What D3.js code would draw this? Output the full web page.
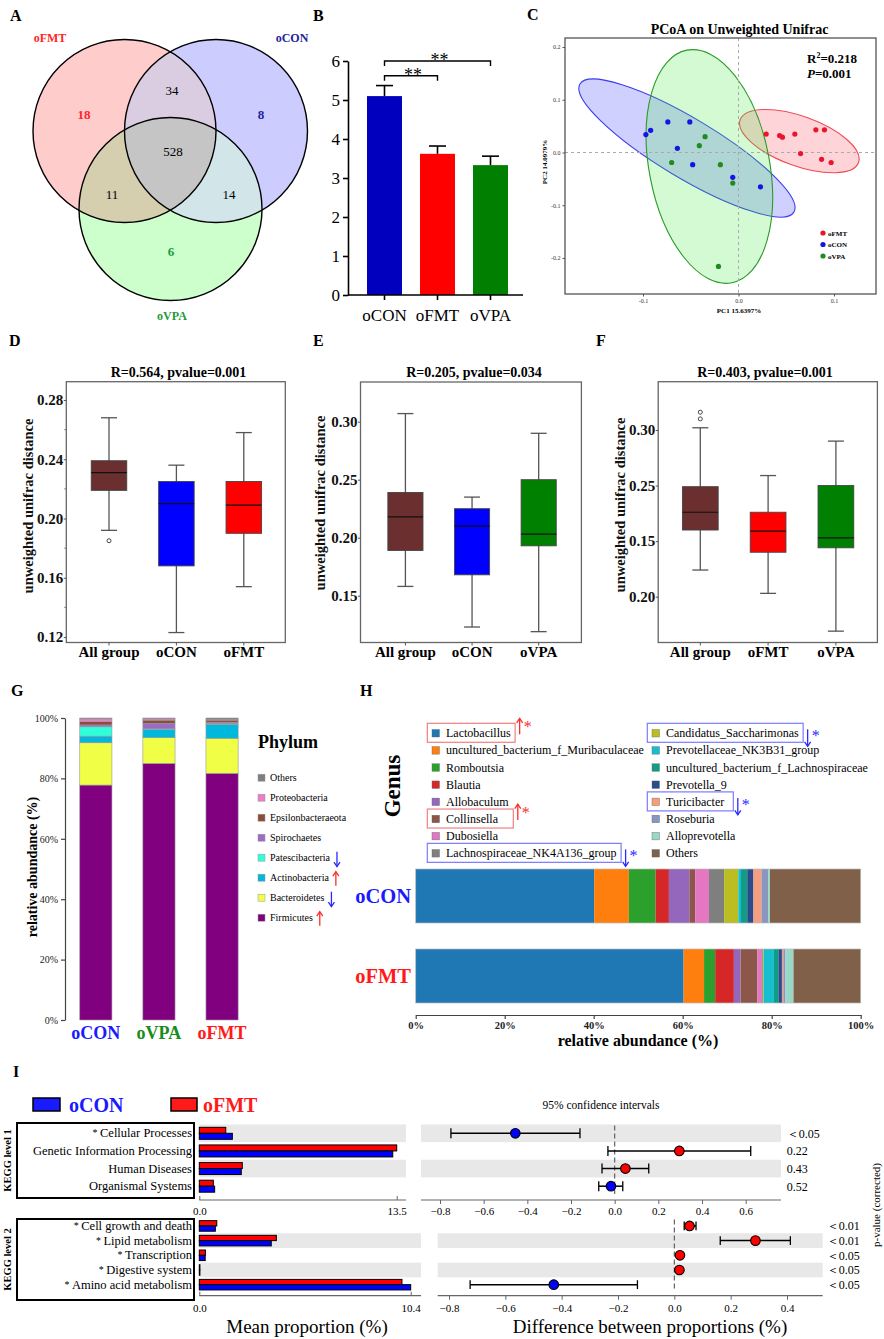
<!DOCTYPE html>
<html lang="en">
<head>
<meta charset="utf-8">
<title>Gut microbiota figure</title>
<script src="https://d3js.org/d3.v7.min.js"></script>
<style>
  body { margin: 0; background: #fff; }
  svg text { font-family: "Liberation Serif", "Times New Roman", serif; }
</style>
</head>
<body>
<svg id="fig" width="884" height="1339"></svg>
<script>

// ---------- data ----------

// A: shared / unique OTUs
const vennSets = ["oFMT", "oCON", "oVPA"];
const vennRegions = ["oFMT", "oCON", "oVPA", "oFMT&oCON", "oFMT&oVPA", "oCON&oVPA", "all"];
const vennCounts = [18, 8, 6, 34, 11, 14, 528];

// B: alpha diversity
const divGroups = ["oCON", "oFMT", "oVPA"];
const divMean = [5.10, 3.62, 3.33];
const divSem = [0.27, 0.20, 0.23];
const divSig = [["oCON", "oVPA", "**"], ["oCON", "oFMT", "**"]];

// C: PCoA (PC1, PC2)
const pcoaGroups = ["oFMT", "oCON", "oVPA"];
const pcoaFMT = [[0.029, 0.035], [0.043, 0.032], [0.046, 0.029], [0.059, 0.035], [0.081, 0.043],
                 [0.090, 0.043], [0.065, -0.002], [0.087, -0.013], [0.097, -0.019]];
const pcoaCON = [[-0.097, 0.034], [-0.092, 0.042], [-0.074, 0.058], [-0.051, 0.058],
                 [-0.064, 0.008], [-0.048, -0.023], [-0.006, -0.047], [0.023, -0.065]];
const pcoaVPA = [[-0.035, 0.030], [-0.041, 0.013], [-0.070, -0.019], [-0.019, -0.023],
                 [-0.006, -0.058], [-0.021, -0.216]];
// ellipse: major axis end points, semi-minor (PC1 units)
const pcoaEllipses = [
  [[0.0017, 0.062], [0.1257, -0.019], 0.026],
  [[-0.166, 0.130], [0.058, -0.113], 0.031],
  [[-0.054, 0.194], [-0.007, -0.247], 0.063]
];
const pcoaStats = ["0.218", "0.001"];

// D-F: ANOSIM boxplots [lower, Q1, median, Q3, upper]
const anosimTitles = ["R=0.564, pvalue=0.001", "R=0.205, pvalue=0.034", "R=0.403, pvalue=0.001"];
const anosimGroups = [["All group", "oCON", "oFMT"], ["All group", "oCON", "oVPA"], ["All group", "oFMT", "oVPA"]];
const anosimStats = [
  [[0.192, 0.219, 0.231, 0.239, 0.268], [0.123, 0.168, 0.210, 0.225, 0.236], [0.154, 0.190, 0.209, 0.225, 0.258]],
  [[0.158, 0.189, 0.218, 0.239, 0.307], [0.123, 0.168, 0.210, 0.225, 0.235], [0.119, 0.193, 0.203, 0.250, 0.290]],
  [[0.174, 0.210, 0.226, 0.249, 0.302], [0.153, 0.190, 0.209, 0.226, 0.259], [0.119, 0.194, 0.203, 0.250, 0.290]]
];
const anosimOutliers = [[[0.185], [], []], [[], [], []], [[0.310, 0.316], [], []]];
const anosimTickValues = [[0.12, 0.16, 0.20, 0.24, 0.28], [0.15, 0.20, 0.25, 0.30], [0.15, 0.20, 0.25, 0.30]];
const anosimTickLabels = [["0.12", "0.16", "0.20", "0.24", "0.28"], ["0.15", "0.20", "0.25", "0.30"], ["0.20", "0.15", "0.25", "0.30"]];

// G: phylum composition (%)
const phylumNames = ["Firmicutes", "Bacteroidetes", "Actinobacteria", "Patescibacteria",
                     "Spirochaetes", "Epsilonbacteraeota", "Proteobacteria", "Others"];
const phylumGroups = ["oCON", "oVPA", "oFMT"];
const phylumCON = [77.8, 14.0, 2.2, 3.1, 0.6, 1.1, 0.9, 0.3];
const phylumVPA = [85.0, 8.5, 2.7, 0.2, 1.8, 1.1, 0.4, 0.3];
const phylumFMT = [81.7, 11.6, 4.6, 0.2, 0.5, 0.7, 0.2, 0.5];
const phylumTrend = ["up", "down", "up", "down", "", "", "", ""];

// H: genus composition (%)
const genusNames = ["Lactobacillus", "uncultured_bacterium_f_Muribaculaceae", "Romboutsia", "Blautia",
  "Allobaculum", "Collinsella", "Dubosiella", "Lachnospiraceae_NK4A136_group",
  "Candidatus_Saccharimonas", "Prevotellaceae_NK3B31_group", "uncultured_bacterium_f_Lachnospiraceae",
  "Prevotella_9", "Turicibacter", "Roseburia", "Alloprevotella", "Others"];
const genusGroups = ["oCON", "oFMT"];
const genusCON = [40.1, 7.8, 6.0, 3.0, 4.6, 1.3, 3.1, 3.4, 3.2, 0.6, 1.4, 1.4, 1.8, 1.5, 0.4, 20.4];
const genusFMT = [60.2, 4.6, 2.5, 4.2, 1.5, 3.8, 1.0, 0.2, 0.2, 2.3, 1.0, 0.8, 0.3, 0.5, 1.8, 15.1];
const genusTrend = ["up", "", "", "", "", "up", "", "down", "down", "", "", "", "down", "", "", ""];

// I: KEGG pathways (mean proportion %, difference and 95% CI)
const kegg1Names = ["Cellular Processes", "Genetic Information Processing", "Human Diseases", "Organismal Systems"];
const kegg1Star = [true, false, false, false];
const kegg1CON = [2.26, 13.23, 2.87, 1.05];
const kegg1FMT = [1.81, 13.50, 2.94, 0.96];
const kegg1Diff = [-0.455, 0.296, 0.049, -0.017];
const kegg1Lo = [-0.750, -0.031, -0.058, -0.073];
const kegg1Hi = [-0.159, 0.623, 0.156, 0.037];
const kegg1P = ["＜0.05", "0.22", "0.43", "0.52"];
const kegg1Max = 13.5;

const kegg2Names = ["Cell growth and death", "Lipid metabolism", "Transcription", "Digestive system", "Amino acid metabolism"];
const kegg2Star = [true, true, true, true, true];
const kegg2CON = [0.79, 3.54, 0.29, 0.03, 10.40];
const kegg2FMT = [0.86, 3.79, 0.30, 0.03, 9.97];
const kegg2Diff = [0.054, 0.288, 0.020, 0.018, -0.428];
const kegg2Lo = [0.035, 0.163, 0.015, 0.014, -0.725];
const kegg2Hi = [0.077, 0.412, 0.025, 0.022, -0.131];
const kegg2P = ["＜0.01", "＜0.01", "＜0.05", "＜0.05", "＜0.05"];
const kegg2Max = 10.4;

// ---------- helpers ----------

const svg = d3.select("#fig");
const SERIF = '"Liberation Serif", "Times New Roman", serif';
const SANS = '"Liberation Sans", Arial, sans-serif';

function addText(g, str, x, y, o = {}) {
  let tr = "translate(" + x + "," + y + ")";
  if (o.rotate) tr += " rotate(" + o.rotate + ")";
  if (o.sx) tr += " scale(" + o.sx + ",1)";
  return g.append("text")
    .attr("transform", tr)
    .attr("text-anchor", o.anchor || "start")
    .attr("font-family", o.family || SERIF)
    .attr("font-size", o.size || 12)
    .attr("font-weight", o.weight || "normal")
    .attr("fill", o.fill || "#000")
    .text(str);
}

function arrow(g, x, y1, y2, color) {
  // from y1 to y2, head at y2
  const d = y2 > y1 ? 1 : -1;
  g.append("line").attr("x1", x).attr("x2", x).attr("y1", y1).attr("y2", y2)
    .attr("stroke", color).attr("stroke-width", 1.3);
  g.append("path")
    .attr("d", "M" + (x - 3) + "," + (y2 - 4.5 * d) + " L" + x + "," + y2 + " L" + (x + 3) + "," + (y2 - 4.5 * d))
    .attr("fill", "none").attr("stroke", color).attr("stroke-width", 1.3);
}

["A", "B", "C", "D", "E", "F", "G", "H", "I"].forEach((l, i) => {
  const pos = [[10, 21], [313, 21], [527, 20], [9, 346], [313, 346], [596, 346], [11, 696], [360, 696], [13, 1077]][i];
  addText(svg, l, pos[0], pos[1], { family: SANS, weight: "bold", size: 16 });
});

// ---------- A: Venn ----------
const gA = svg.append("g");
const vennR = 91.5;
const vennCircles = [
  { name: "oFMT", cx: 124.5, cy: 131, fill: "#ffcccc" },
  { name: "oCON", cx: 216, cy: 131, fill: "#ccccff" },
  { name: "oVPA", cx: 170.5, cy: 209, fill: "#ccffcc" }
];
const defs = svg.append("defs");
vennCircles.forEach(c => {
  defs.append("clipPath").attr("id", "clip-" + c.name)
    .append("circle").attr("cx", c.cx).attr("cy", c.cy).attr("r", vennR);
});
gA.selectAll("circle.base").data(vennCircles).join("circle")
  .attr("class", "base").attr("cx", d => d.cx).attr("cy", d => d.cy).attr("r", vennR)
  .attr("fill", d => d.fill);

function overlap(names, fill) {
  let g = gA;
  names.slice(0, -1).forEach(n => { g = g.append("g").attr("clip-path", "url(#clip-" + n + ")"); });
  const c = vennCircles.find(v => v.name === names[names.length - 1]);
  g.append("circle").attr("cx", c.cx).attr("cy", c.cy).attr("r", vennR).attr("fill", fill);
}
overlap(["oFMT", "oCON"], "#dacde1");
overlap(["oFMT", "oVPA"], "#d5cfaf");
overlap(["oCON", "oVPA"], "#d2e6e9");
overlap(["oFMT", "oCON", "oVPA"], "#c5c5c5");

gA.selectAll("circle.edge").data(vennCircles).join("circle")
  .attr("class", "edge").attr("cx", d => d.cx).attr("cy", d => d.cy).attr("r", vennR)
  .attr("fill", "none").attr("stroke", "#000").attr("stroke-width", 1.4);

const vennColors = { oFMT: "#ff2626", oCON: "#23239b", oVPA: "#1e9a3c" };
const vennLabelPos = [[50, 42], [292, 42], [172, 320]];
vennSets.forEach((s, i) => addText(gA, s, vennLabelPos[i][0], vennLabelPos[i][1],
  { anchor: "middle", weight: "bold", size: 12, fill: vennColors[s] }));
const vennTextPos = [[84, 119], [261, 119], [171, 256], [172, 94.5], [112, 199], [229, 199], [173, 156]];
vennRegions.forEach((r, i) => {
  const single = vennSets.includes(r);
  addText(gA, vennCounts[i], vennTextPos[i][0], vennTextPos[i][1], {
    anchor: "middle", size: 13, weight: single ? "bold" : "normal", fill: single ? vennColors[r] : "#000"
  });
});

// ---------- B: bar chart ----------
const gB = svg.append("g");
const yB = d3.scaleLinear().domain([0, 6]).range([295, 61]);
const xB = d3.scaleBand().domain(divGroups).range([358, 517]).paddingInner(0.34).paddingOuter(0.17);
const colB = { oCON: "#0000be", oFMT: "#ff0000", oVPA: "#007f00" };

gB.selectAll("rect").data(divGroups).join("rect")
  .attr("x", d => xB(d)).attr("width", xB.bandwidth())
  .attr("y", (d, i) => yB(divMean[i])).attr("height", (d, i) => yB(0) - yB(divMean[i]))
  .attr("fill", d => colB[d]);
divGroups.forEach((g, i) => {
  const cx = xB(g) + xB.bandwidth() / 2;
  gB.append("line").attr("x1", cx).attr("x2", cx)
    .attr("y1", yB(divMean[i])).attr("y2", yB(divMean[i] + divSem[i]))
    .attr("stroke", "#000").attr("stroke-width", 1.6);
  gB.append("line").attr("x1", cx - 8.5).attr("x2", cx + 8.5)
    .attr("y1", yB(divMean[i] + divSem[i])).attr("y2", yB(divMean[i] + divSem[i]))
    .attr("stroke", "#000").attr("stroke-width", 1.6);
});

const axB = gB.append("g").attr("transform", "translate(348,0)")
  .call(d3.axisLeft(yB).ticks(6).tickSize(5).tickSizeOuter(0).tickPadding(3));
axB.selectAll("path, line").attr("stroke", "#000").attr("stroke-width", 1.6);
axB.selectAll("text").attr("font-family", SERIF).attr("font-size", 17).attr("fill", "#000");

gB.append("line").attr("x1", 348).attr("x2", 523).attr("y1", yB(0)).attr("y2", yB(0))
  .attr("stroke", "#000").attr("stroke-width", 1.6);
divGroups.forEach(g => {
  const cx = xB(g) + xB.bandwidth() / 2;
  gB.append("line").attr("x1", cx).attr("x2", cx).attr("y1", yB(0)).attr("y2", yB(0) + 5)
    .attr("stroke", "#000").attr("stroke-width", 1.6);
  addText(gB, g, cx, 321, { anchor: "middle", size: 17 });
});

const sigLevels = [6.0, 5.62];
divSig.forEach((s, i) => {
  const x1 = xB(s[0]) + xB.bandwidth() / 2, x2 = xB(s[1]) + xB.bandwidth() / 2;
  const y = yB(sigLevels[i]);
  gB.append("path").attr("d", "M" + x1 + "," + (y + 5) + " V" + y + " H" + x2 + " V" + (y + 5))
    .attr("fill", "none").attr("stroke", "#000").attr("stroke-width", 1.4);
  addText(gB, s[2], (x1 + x2) / 2 + 2, y + 5, { anchor: "middle", size: 18 });
});

// ---------- C: PCoA ----------
const gC = svg.append("g");
const xC = d3.scaleLinear().domain([-0.1, 0.1]).range([643, 834]);
const yC = d3.scaleLinear().domain([-0.2, 0.2]).range([258, 47]);
const frameC = [565, 38, 876, 294];
const pcoaCol = { oFMT: "#e8152d", oCON: "#1414e6", oVPA: "#1e8c1e" };
const ellFill = ["rgba(255,40,60,0.2)", "rgba(40,40,255,0.22)", "rgba(60,230,60,0.22)"];
const ellStroke = ["#ee4a55", "#3a3aee", "#2a9a2a"];

addText(gC, "PCoA on Unweighted Unifrac", 739.5, 34, { anchor: "middle", weight: "bold", size: 14 });

pcoaEllipses.forEach((e, i) => {
  const p1 = [xC(e[0][0]), yC(e[0][1])], p2 = [xC(e[1][0]), yC(e[1][1])];
  const cx = (p1[0] + p2[0]) / 2, cy = (p1[1] + p2[1]) / 2;
  const a = Math.hypot(p2[0] - p1[0], p2[1] - p1[1]) / 2;
  const b = xC(e[2]) - xC(0);
  const ang = Math.atan2(p2[1] - p1[1], p2[0] - p1[0]) * 180 / Math.PI;
  gC.append("ellipse").attr("cx", 0).attr("cy", 0).attr("rx", a).attr("ry", b)
    .attr("transform", "translate(" + cx + "," + cy + ") rotate(" + ang + ")")
    .attr("fill", ellFill[i]).attr("stroke", ellStroke[i]).attr("stroke-width", 1.1);
});

gC.append("line").attr("x1", xC(0)).attr("x2", xC(0)).attr("y1", frameC[1]).attr("y2", frameC[3])
  .attr("stroke", "#aaa").attr("stroke-dasharray", "3,3");
gC.append("line").attr("x1", frameC[0]).attr("x2", frameC[2]).attr("y1", yC(0)).attr("y2", yC(0))
  .attr("stroke", "#aaa").attr("stroke-dasharray", "3,3");

[pcoaFMT, pcoaCON, pcoaVPA].forEach((pts, i) => {
  gC.selectAll("circle.g" + i).data(pts).join("circle").attr("class", "g" + i)
    .attr("cx", d => xC(d[0])).attr("cy", d => yC(d[1])).attr("r", 2.6)
    .attr("fill", pcoaCol[pcoaGroups[i]]);
});

gC.append("rect").attr("x", frameC[0]).attr("y", frameC[1])
  .attr("width", frameC[2] - frameC[0]).attr("height", frameC[3] - frameC[1])
  .attr("fill", "none").attr("stroke", "#555").attr("stroke-width", 1.3);

const axCy = gC.append("g").attr("transform", "translate(" + frameC[0] + ",0)")
  .call(d3.axisLeft(yC).tickValues([-0.2, -0.1, 0, 0.1, 0.2]).tickFormat(d => d.toFixed(1)).tickSize(2.5).tickPadding(2));
const axCx = gC.append("g").attr("transform", "translate(0," + frameC[3] + ")")
  .call(d3.axisBottom(xC).tickValues([-0.1, 0, 0.1]).tickFormat(d => d.toFixed(1)).tickSize(2.5).tickPadding(2));
[axCy, axCx].forEach(ax => {
  ax.select(".domain").remove();
  ax.selectAll("line").attr("stroke", "#555");
  ax.selectAll("text").attr("font-family", SERIF).attr("font-size", 6).attr("fill", "#333");
});
addText(gC, "PC1 15.6397%", 739, 313, { anchor: "middle", weight: "bold", size: 7 });
addText(gC, "PC2 14.0979%", 547, 162, { anchor: "middle", weight: "bold", size: 7, rotate: -90 });

const rt = addText(gC, "R", 807, 63, { weight: "bold", size: 13 });
rt.append("tspan").attr("font-size", 8).attr("dy", -5).text("2");
rt.append("tspan").attr("dy", 5).text("=" + pcoaStats[0]);
const pt = addText(gC, "", 807, 77.5, { weight: "bold", size: 13 });
pt.append("tspan").attr("font-style", "italic").text("P");
pt.append("tspan").text("=" + pcoaStats[1]);

pcoaGroups.forEach((g, i) => {
  const y = 233 + i * 11.5;
  gC.append("circle").attr("cx", 823).attr("cy", y).attr("r", 2.6).attr("fill", pcoaCol[g]);
  addText(gC, g, 828, y + 2.5, { weight: "bold", size: 7 });
});

// ---------- D-F: boxplots ----------
const boxPanels = [
  { frame: [66.3, 381.7, 285.3, 642.5], yPix: [637, 400], xRange: [75.3, 277.5], titleX: 178.5, ylab: [33, 506], minor: true },
  { frame: [360.5, 382, 581.4, 642.5], yPix: [595.7, 421.7], xRange: [372.1, 572], titleX: 474, ylab: [325, 503] },
  { frame: [658.2, 381.7, 877.4, 642.5], yPix: [596.7, 430], xRange: [666.4, 869.8], titleX: 765, ylab: [624.5, 505] }
];
const boxCol = { "All group": "#6b2f2f", oCON: "#0000ff", oFMT: "#ff0000", oVPA: "#008000" };

boxPanels.forEach((p, k) => {
  const g = svg.append("g");
  const tv = anosimTickValues[k];
  const y = d3.scaleLinear().domain([tv[0], tv[tv.length - 1]]).range(p.yPix);
  const x = d3.scaleBand().domain(anosimGroups[k]).range(p.xRange).paddingInner(0.473).paddingOuter(0.2365);
  const bw = x.bandwidth();

  g.append("rect").attr("x", p.frame[0]).attr("y", p.frame[1])
    .attr("width", p.frame[2] - p.frame[0]).attr("height", p.frame[3] - p.frame[1])
    .attr("fill", "none").attr("stroke", "#666").attr("stroke-width", 1.3);

  addText(g, anosimTitles[k], p.titleX, 377, { anchor: "middle", weight: "bold", size: 14 });

  const ax = g.append("g").attr("transform", "translate(" + p.frame[0] + ",0)")
    .call(d3.axisLeft(y).tickValues(tv).tickFormat((d, i) => anosimTickLabels[k][i]).tickSize(2.5).tickPadding(0.5));
  ax.select(".domain").remove();
  ax.selectAll("line").attr("stroke", "#555");
  ax.selectAll("text").attr("font-family", SERIF).attr("font-size", 15).attr("font-weight", "bold")
    .attr("fill", "#111");
  if (p.minor) {
    d3.range(tv[0] + 0.02, tv[tv.length - 1], 0.04).forEach(v => {
      g.append("line").attr("x1", p.frame[0] - 2).attr("x2", p.frame[0]).attr("y1", y(v)).attr("y2", y(v))
        .attr("stroke", "#777");
    });
  }

  addText(g, "unweighted unifrac distance", p.ylab[0], p.ylab[1],
    { anchor: "middle", weight: "bold", size: 14.5, rotate: -90, fill: "#111" });

  anosimGroups[k].forEach((grp, j) => {
    const s = anosimStats[k][j];
    const cx = x(grp) + bw / 2;
    g.append("line").attr("x1", cx).attr("x2", cx).attr("y1", y(s[0])).attr("y2", y(s[4]))
      .attr("stroke", "#555").attr("stroke-width", 1.3);
    [s[0], s[4]].forEach(v => g.append("line").attr("x1", cx - 8).attr("x2", cx + 8)
      .attr("y1", y(v)).attr("y2", y(v)).attr("stroke", "#555").attr("stroke-width", 1.3));
    g.append("rect").attr("x", x(grp)).attr("width", bw).attr("y", y(s[3])).attr("height", y(s[1]) - y(s[3]))
      .attr("fill", boxCol[grp]).attr("stroke", "#444").attr("stroke-width", 0.9);
    g.append("line").attr("x1", x(grp)).attr("x2", x(grp) + bw).attr("y1", y(s[2])).attr("y2", y(s[2]))
      .attr("stroke", "#111").attr("stroke-width", 1.2);
    anosimOutliers[k][j].forEach(v => g.append("circle").attr("cx", cx).attr("cy", y(v)).attr("r", 2)
      .attr("fill", "none").attr("stroke", "#333").attr("stroke-width", 0.9));
    g.append("line").attr("x1", cx).attr("x2", cx).attr("y1", p.frame[3]).attr("y2", p.frame[3] + 3)
      .attr("stroke", "#555");
    addText(g, grp, cx, 657, { anchor: "middle", size: 15, weight: "bold" });
  });
});

// ---------- G: phylum stacked bars ----------
const gG = svg.append("g");
const yG = d3.scaleLinear().domain([0, 100]).range([1020, 718]);
const xG = d3.scaleBand().domain(phylumGroups).range([64.3, 253.6]).paddingInner(0.49).paddingOuter(0.245);
const phylumCol = ["#800080", "#f0ff46", "#00b8dc", "#30ffdc", "#9b6bc8", "#8b4c3c", "#ee7cc8", "#7f7f7f"];
const phylumRows = phylumGroups.map((g, i) => {
  const vals = [phylumCON, phylumVPA, phylumFMT][i];
  const row = { group: g };
  phylumNames.forEach((n, j) => { row[n] = vals[j]; });
  return row;
});
const stackG = d3.stack().keys(phylumNames)(phylumRows);
gG.selectAll("g.layer").data(stackG).join("g").attr("class", "layer")
  .attr("fill", (d, i) => phylumCol[i])
  .selectAll("rect").data(d => d).join("rect")
  .attr("x", d => xG(d.data.group)).attr("width", xG.bandwidth())
  .attr("y", d => yG(d[1])).attr("height", d => yG(d[0]) - yG(d[1]))
  .attr("stroke", "#999").attr("stroke-width", 0.6);

const axG = gG.append("g").attr("transform", "translate(65,0)")
  .call(d3.axisLeft(yG).tickValues([0, 20, 40, 60, 80, 100]).tickFormat(d => d + "%").tickSize(4).tickSizeOuter(0).tickPadding(3));
axG.selectAll("path, line").attr("stroke", "#444").attr("stroke-width", 1.2);
axG.selectAll("text").attr("font-family", SERIF).attr("font-size", 10).attr("fill", "#222");

const groupCol = { oCON: "#1a1aff", oVPA: "#1b8c1b", oFMT: "#ff1a1a" };
phylumGroups.forEach(g => addText(gG, g, xG(g) + xG.bandwidth() / 2, 1038.5,
  { anchor: "middle", weight: "bold", size: 18, fill: groupCol[g] }));

addText(gG, "relative abundance (%)", 37, 867, { anchor: "middle", weight: "bold", size: 14, rotate: -90 });
addText(gG, "Phylum", 258, 748, { weight: "bold", size: 18 });
phylumNames.slice().reverse().forEach((n, i) => {
  const j = phylumNames.length - 1 - i;
  const cy = 777.7 + i * 20;
  gG.append("rect").attr("x", 258).attr("y", cy - 3.5).attr("width", 7).attr("height", 7)
    .attr("fill", phylumCol[j]).attr("stroke", "#999").attr("stroke-width", 0.5);
  const t = addText(gG, n, 270, cy + 3.5, { size: 10 });
  const end = 270 + t.node().getComputedTextLength();
  if (phylumTrend[j] === "up") arrow(gG, end + 7, cy + 8, cy - 6, "#ff2a2a");
  if (phylumTrend[j] === "down") arrow(gG, end + 7, cy - 6, cy + 9, "#2a2aff");
});

// ---------- H: genus stacked bars ----------
const gH = svg.append("g");
const xH = d3.scaleLinear().domain([0, 100]).range([415.7, 860.7]);
const yH = d3.scaleBand().domain(genusGroups).range([856, 1016]).paddingInner(0.325).paddingOuter(0.1625);
const genusCol = ["#1f77b4", "#ff7f0e", "#2ca02c", "#d62728", "#9467bd", "#8c564b", "#e377c2", "#7f7f7f",
  "#bcbd22", "#17becf", "#0f9e84", "#2b4c8c", "#f59d7c", "#8b96bf", "#98d8c6", "#806049"];
const genusRows = genusGroups.map((g, i) => {
  const vals = [genusCON, genusFMT][i];
  const row = { group: g };
  genusNames.forEach((n, j) => { row[n] = vals[j]; });
  return row;
});
const stackH = d3.stack().keys(genusNames)(genusRows);
gH.selectAll("g.layer").data(stackH).join("g").attr("class", "layer")
  .attr("fill", (d, i) => genusCol[i])
  .selectAll("rect").data(d => d).join("rect")
  .attr("y", d => yH(d.data.group)).attr("height", yH.bandwidth())
  .attr("x", d => xH(d[0])).attr("width", d => xH(d[1]) - xH(d[0]));
genusGroups.forEach(g => {
  gH.append("rect").attr("x", xH(0)).attr("y", yH(g)).attr("width", xH(100) - xH(0)).attr("height", yH.bandwidth())
    .attr("fill", "none").attr("stroke", "#bbb").attr("stroke-width", 0.7);
  addText(gH, g, 411, yH(g) + yH.bandwidth() / 2 + 6.5,
    { anchor: "end", weight: "bold", size: 20.5, fill: groupCol[g] });
});

const axH = gH.append("g").attr("transform", "translate(0,1015)")
  .call(d3.axisBottom(xH).tickValues([0, 20, 40, 60, 80, 100]).tickFormat(d => d + "%").tickSize(4).tickSizeOuter(0).tickPadding(3));
axH.selectAll("path, line").attr("stroke", "#444").attr("stroke-width", 1.2);
axH.selectAll("text").attr("font-family", SERIF).attr("font-size", 10.5).attr("font-weight", "bold").attr("fill", "#222");
addText(gH, "relative abundance (%)", 638, 1046, { anchor: "middle", weight: "bold", size: 16 });
addText(gH, "Genus", 400, 786, { anchor: "middle", weight: "bold", size: 23, rotate: -90 });

genusNames.forEach((n, i) => {
  const col = Math.floor(i / 8), row = i % 8;
  const sx = col === 0 ? 432 : 652;
  const cy = 733.3 + row * 17.15;
  gH.append("rect").attr("x", sx).attr("y", cy - 3.8).attr("width", 7.5).attr("height", 7.5)
    .attr("fill", genusCol[i]).attr("stroke", "#666").attr("stroke-width", 0.4);
  const t = addText(gH, n, sx + 14, cy + 4, { size: 12 });
  const end = sx + 14 + t.node().getComputedTextLength();
  const tr = genusTrend[i];
  if (tr) {
    const bx = sx - 4.7;
    const bwid = Math.max(86, end + 4.5 - bx);
    const c = tr === "up" ? "#ff2a2a" : "#2a2aff";
    gH.append("rect").attr("x", bx).attr("y", cy - 10).attr("width", bwid).attr("height", 19)
      .attr("fill", "none").attr("stroke", tr === "up" ? "#f08080" : "#7a7aff").attr("stroke-width", 1.2);
    const ax = bx + bwid + 4.5;
    if (tr === "up") {
      arrow(gH, ax, cy + 1, cy - 15, c);
      addText(gH, "*", ax + 4, cy - 1, { size: 16, fill: c });
    } else {
      arrow(gH, ax, cy - 4, cy + 13, c);
      addText(gH, "*", ax + 4, cy + 8, { size: 16, fill: c });
    }
  }
});

// ---------- I: KEGG extended error bar ----------
const gI = svg.append("g");
const FMT_RED = "#ff0000", CON_BLUE = "#0000ff";

// legend
gI.append("rect").attr("x", 33).attr("y", 1098).attr("width", 27).attr("height", 13)
  .attr("fill", "#1a1aff").attr("stroke", "#000").attr("stroke-width", 1.5);
addText(gI, "oCON", 69, 1112, { weight: "bold", size: 20, fill: "#1a1aff" });
gI.append("rect").attr("x", 171).attr("y", 1098).attr("width", 26).attr("height", 13)
  .attr("fill", "#ff1a1a").attr("stroke", "#000").attr("stroke-width", 1.5);
addText(gI, "oFMT", 203, 1112, { weight: "bold", size: 20, fill: "#ff1a1a" });
addText(gI, "95% confidence intervals", 601, 1109, { anchor: "middle", size: 11.5 });

const keggLevels = [
  { names: kegg1Names, star: kegg1Star, con: kegg1CON, fmt: kegg1FMT, diff: kegg1Diff, lo: kegg1Lo, hi: kegg1Hi, p: kegg1P,
    max: kegg1Max, rows: [1124.5, 1195], axisY: 1200, left: [199.3, 396.7], leftBand: 406,
    right: [-0.8, 0.6, 440, 745.7], rightSpan: [421, 781], rightTicks: d3.range(-0.8, 0.61, 0.2),
    box: [17, 1123, 194, 1198], lab: "KEGG level 1", pX: 786.7, shade: 0, lblBase: 15 },
  { names: kegg2Names, star: kegg2Star, con: kegg2CON, fmt: kegg2FMT, diff: kegg2Diff, lo: kegg2Lo, hi: kegg2Hi, p: kegg2P,
    max: kegg2Max, rows: [1218.6, 1292], axisY: 1295.7, left: [199.3, 410.7], leftBand: 421,
    right: [-0.8, 0.4, 449, 787], rightSpan: [437.7, 822.7], rightTicks: d3.range(-0.8, 0.41, 0.2),
    box: [17, 1219, 194, 1300], lab: "KEGG level 2", pX: 826.7, shade: 1, lblBase: 16.8 }
];

keggLevels.forEach(L => {
  const yR = d3.scaleBand().domain(L.names).range(L.rows);
  const xL = d3.scaleLinear().domain([0, L.max]).range(L.left);
  const xR = d3.scaleLinear().domain([L.right[0], L.right[1]]).range([L.right[2], L.right[3]]);
  const step = yR.bandwidth();
  const barH = Math.min(6, step * 0.36);

  // shaded rows
  L.names.forEach((n, i) => {
    if (i % 2 !== L.shade) return;
    gI.append("rect").attr("x", L.left[0]).attr("y", yR(n)).attr("width", L.leftBand - L.left[0]).attr("height", step)
      .attr("fill", "#e8e8e8");
    gI.append("rect").attr("x", L.rightSpan[0]).attr("y", yR(n)).attr("width", L.rightSpan[1] - L.rightSpan[0]).attr("height", step)
      .attr("fill", "#e8e8e8");
  });

  // group box + label
  gI.append("rect").attr("x", L.box[0]).attr("y", L.box[1]).attr("width", L.box[2] - L.box[0]).attr("height", L.box[3] - L.box[1])
    .attr("fill", "none").attr("stroke", "#000").attr("stroke-width", 2);
  addText(gI, L.lab, 11, (L.box[1] + L.box[3]) / 2, { anchor: "middle", weight: "bold", size: 10.5, rotate: -90 });

  // row labels and mean proportion bars
  L.names.forEach((n, i) => {
    const cy = yR(n) + step / 2;
    const t = addText(gI, "", 192, cy + 4, { anchor: "end", size: 12.5 });
    if (L.star[i]) t.append("tspan").attr("font-size", 10).attr("dy", -1).text("* ");
    t.append("tspan").attr("dy", L.star[i] ? 1 : 0).text(n);
    gI.append("rect").attr("x", xL(0)).attr("y", cy - barH).attr("width", xL(L.fmt[i]) - xL(0)).attr("height", barH)
      .attr("fill", FMT_RED).attr("stroke", "#000").attr("stroke-width", 1);
    gI.append("rect").attr("x", xL(0)).attr("y", cy).attr("width", xL(L.con[i]) - xL(0)).attr("height", barH)
      .attr("fill", CON_BLUE).attr("stroke", "#000").attr("stroke-width", 1);
  });

  const axL = gI.append("g").attr("transform", "translate(0," + L.axisY + ")")
    .call(d3.axisBottom(xL).tickValues([0, L.max]).tickFormat(d3.format(".1f")).tickSize(-4).tickSizeOuter(0).tickPadding(L.lblBase - 8));
  axL.select(".domain").remove();
  gI.append("line").attr("x1", L.left[0]).attr("x2", L.leftBand).attr("y1", L.axisY).attr("y2", L.axisY)
    .attr("stroke", "#666").attr("stroke-width", 1.2);
  axL.selectAll("line").attr("stroke", "#666");
  axL.selectAll("text").attr("font-family", SERIF).attr("font-size", 11).attr("fill", "#000");

  // zero line
  gI.append("line").attr("x1", xR(0)).attr("x2", xR(0)).attr("y1", L.rows[0] + 1).attr("y2", L.rows[1] - 1)
    .attr("stroke", "#555").attr("stroke-width", 1.1).attr("stroke-dasharray", "5,3");

  // CIs and points
  L.names.forEach((n, i) => {
    const cy = yR(n) + step / 2;
    const cap = Math.min(5, step * 0.3);
    gI.append("line").attr("x1", xR(L.lo[i])).attr("x2", xR(L.hi[i])).attr("y1", cy).attr("y2", cy)
      .attr("stroke", "#000").attr("stroke-width", 1.5);
    [L.lo[i], L.hi[i]].forEach(v => gI.append("line").attr("x1", xR(v)).attr("x2", xR(v))
      .attr("y1", cy - cap).attr("y2", cy + cap).attr("stroke", "#000").attr("stroke-width", 1.3));
    gI.append("circle").attr("cx", xR(L.diff[i])).attr("cy", cy).attr("r", 4.8)
      .attr("fill", L.diff[i] < 0 ? CON_BLUE : FMT_RED).attr("stroke", "#000").attr("stroke-width", 1.1);
    addText(gI, L.p[i], L.pX, cy + 4.5, { size: 12, family: '"Liberation Serif", "Noto Sans CJK SC", serif' });
  });

  const axR = gI.append("g").attr("transform", "translate(0," + L.axisY + ")")
    .call(d3.axisBottom(xR).tickValues(L.rightTicks).tickFormat(d3.format(".1f")).tickSize(4).tickSizeOuter(0).tickPadding(L.lblBase - 12));
  axR.select(".domain").remove();
  gI.append("line").attr("x1", L.rightSpan[0]).attr("x2", L.rightSpan[1]).attr("y1", L.axisY).attr("y2", L.axisY)
    .attr("stroke", "#666").attr("stroke-width", 1.2);
  axR.selectAll("line").attr("stroke", "#666");
  axR.selectAll("text").attr("font-family", SERIF).attr("font-size", 11).attr("fill", "#000");
});

addText(gI, "p-value (corrected)", 880, 1205, { anchor: "middle", size: 11, rotate: -90 });
addText(gI, "Mean proportion (%)", 307, 1333, { anchor: "middle", size: 19 });
addText(gI, "Difference between proportions (%)", 650, 1333, { anchor: "middle", size: 19 });

</script>
</body>
</html>
